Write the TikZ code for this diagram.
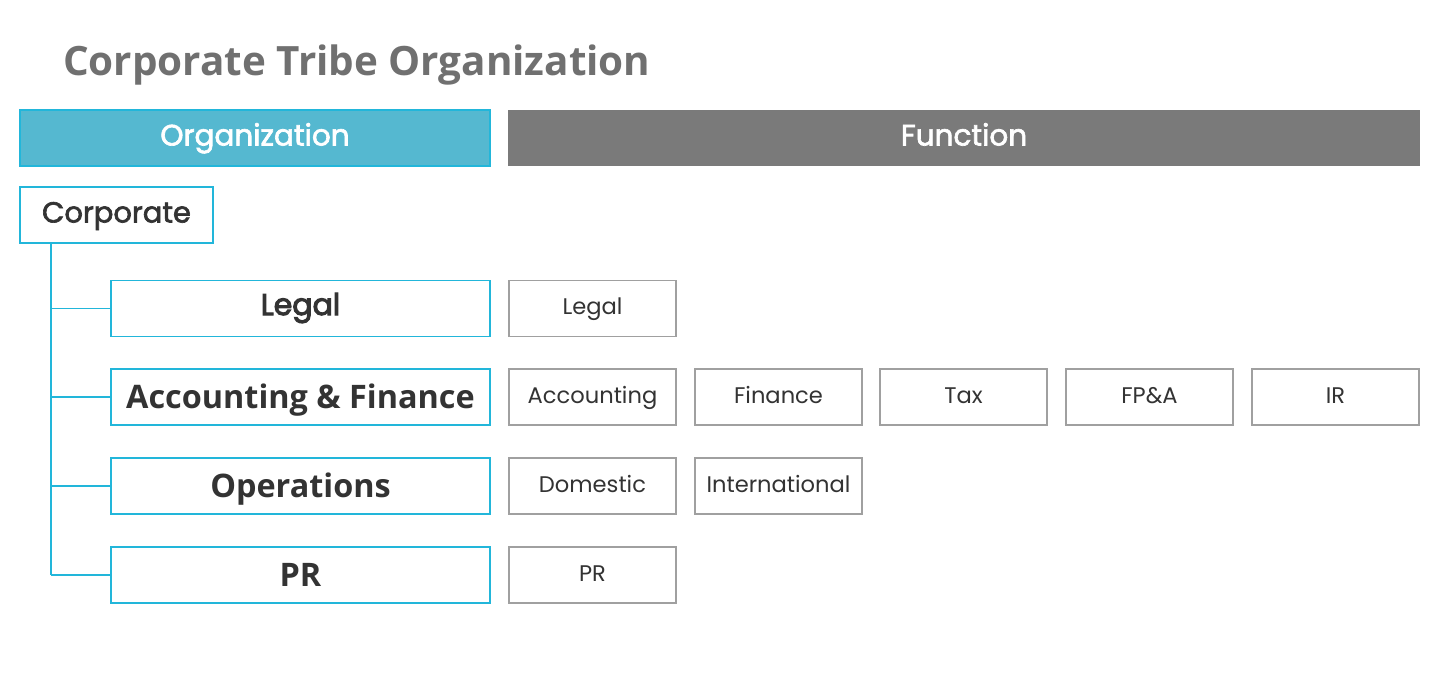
\documentclass[tikz,border=0pt]{standalone}
\usepackage{fontspec}
\setmainfont{Open Sans}
\newfontfamily\geo{Poppins}
\newfontfamily\geobold[FakeBold=2.2]{Poppins}
\newfontfamily\geoheavy[FakeBold=3.5]{Poppins}
\definecolor{cyanline}{HTML}{22B6DA}
\definecolor{cyanfill}{HTML}{55B8D0}
\definecolor{grayhead}{HTML}{7A7A7A}
\definecolor{grayline}{HTML}{A0A0A0}
\definecolor{titlegray}{HTML}{707070}
\definecolor{darktext}{HTML}{333333}
\tikzset{
  orgbox/.style={draw=cyanline, line width=1.5pt, fill=white, minimum width=379pt, minimum height=56pt, inner sep=0pt, text=darktext, font=\fontsize{32.4}{36}\selectfont\bfseries, text height=23pt, text depth=0pt},
  funcbox/.style={draw=grayline, line width=1.5pt, fill=white, minimum width=167pt, minimum height=56pt, inner sep=0pt, text=darktext, font=\geo\fontsize{22.6}{26}\selectfont, text height=16pt, text depth=4pt},
  headbox/.style={minimum height=56pt, inner sep=0pt, text=white, font=\geobold\fontsize{29.5}{33}\selectfont, text height=20pt, text depth=5pt},
  conn/.style={draw=cyanline, line width=1.5pt},
}
\begin{document}
\begin{tikzpicture}[x=1pt,y=-1pt]
\useasboundingbox (0,0) rectangle (1440,697);
\node[anchor=base west, inner sep=0pt, text=titlegray, font=\fontsize{40.4}{44}\selectfont\bfseries] (title) at (63,75) {Corporate Tribe Organization};
\node[headbox, draw=cyanline, line width=1.5pt, fill=cyanfill, minimum width=470pt] (orghead) at (255,138) {Organization};
\node[headbox, fill=grayhead, minimum width=912pt] (funchead) at (964,138) {Function};
\node[draw=cyanline, line width=1.5pt, fill=white, minimum width=193pt, minimum height=56pt, inner sep=0pt, text=darktext, font=\geobold\fontsize{29}{33}\selectfont, text height=20pt, text depth=5pt] (corp) at (116.5,215) {Corporate};
\node[orgbox, font=\geoheavy\fontsize{30}{34}\selectfont, text height=21pt, text depth=8pt] (legal) at (300.5,308.5) {Legal};
\node[orgbox] (af) at (300.5,397) {Accounting \& Finance};
\node[orgbox] (ops) at (300.5,486) {Operations};
\node[orgbox] (pr) at (300.5,575) {PR};
\coordinate (trunk) at (51,0);
\draw[conn] (corp.south -| trunk) -- (pr.west -| trunk);
\draw[conn] (legal.west -| trunk) -- (legal.west);
\draw[conn] (af.west -| trunk) -- (af.west);
\draw[conn] (ops.west -| trunk) -- (ops.west);
\draw[conn] (pr.west -| trunk) -- (pr.west);
\node[funcbox] (flegal) at (592.5,308.5) {Legal};
\node[funcbox] (facc) at (592.5,397) {Accounting};
\node[funcbox] (ffin) at (778.5,397) {Finance};
\node[funcbox] (ftax) at (963.5,397) {Tax};
\node[funcbox] (ffpa) at (1149.5,397) {FP\&A};
\node[funcbox] (fir) at (1335.5,397) {IR};
\node[funcbox] (fdom) at (592.5,486) {Domestic};
\node[funcbox] (fint) at (778.5,486) {International};
\node[funcbox] (fpr) at (592.5,575) {PR};
\end{tikzpicture}
\end{document}
